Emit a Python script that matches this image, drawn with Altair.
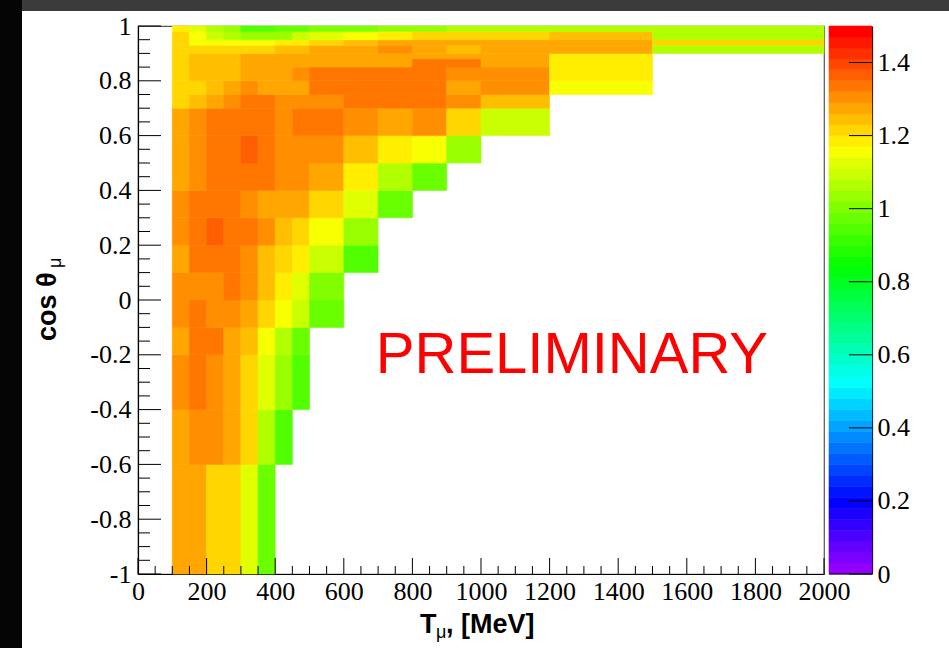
import colorsys
import altair as alt
import pandas as pd

# ---------------- data ----------------
row_cos_lo = [-1.0, -0.6, -0.4, -0.2, -0.1, 0.0, 0.1, 0.2, 0.3, 0.4, 0.5, 0.6,
              0.7, 0.75, 0.8, 0.85, 0.88, 0.9, 0.93, 0.95, 0.98]
row_cos_hi = [-0.6, -0.4, -0.2, -0.1, 0.0, 0.1, 0.2, 0.3, 0.4, 0.5, 0.6, 0.7,
              0.75, 0.8, 0.85, 0.88, 0.9, 0.93, 0.95, 0.98, 1.0]
row_t_edges = [
    [100, 200, 300, 350, 400],
    [100, 150, 250, 300, 350, 400, 450],
    [100, 150, 200, 250, 300, 350, 400, 450, 500],
    [100, 150, 250, 300, 350, 400, 450, 500],
    [100, 150, 200, 300, 350, 400, 450, 500, 600],
    [100, 250, 300, 350, 400, 450, 500, 600],
    [100, 150, 300, 350, 400, 450, 500, 600, 700],
    [100, 150, 200, 250, 350, 400, 450, 500, 600, 700],
    [100, 150, 300, 350, 500, 600, 700, 800],
    [100, 150, 200, 400, 500, 600, 700, 800, 900],
    [100, 150, 200, 300, 350, 400, 600, 700, 800, 900, 1000],
    [100, 150, 200, 400, 450, 600, 700, 800, 900, 1000, 1200],
    [100, 150, 200, 250, 300, 400, 600, 900, 1000, 1200],
    [100, 200, 250, 300, 350, 500, 900, 1000, 1200, 1500],
    [100, 150, 300, 450, 500, 900, 1200, 1500],
    [100, 150, 300, 800, 1000, 1200, 1500],
    [100, 150, 300, 1200, 1500],
    [100, 400, 500, 700, 800, 900, 1000, 1500, 2000],
    [100, 150, 400, 500, 600, 700, 1500, 2000],
    [100, 150, 200, 250, 300, 450, 500, 600, 700, 800, 1200, 1500, 2000],
    [100, 150, 200, 250, 300, 400, 500, 700, 900, 2000],
]
row_ratio = [
    [1.28, 1.22, 1.13, 0.98],
    [1.28, 1.31, 1.28, 1.22, 1.07, 0.95],
    [1.31, 1.34, 1.31, 1.28, 1.22, 1.13, 1.04, 0.95],
    [1.28, 1.34, 1.28, 1.25, 1.16, 1.07, 0.98],
    [1.31, 1.34, 1.31, 1.28, 1.22, 1.16, 1.10, 0.98],
    [1.31, 1.34, 1.31, 1.25, 1.19, 1.13, 1.01],
    [1.28, 1.34, 1.31, 1.25, 1.22, 1.19, 1.10, 0.95],
    [1.31, 1.34, 1.37, 1.34, 1.31, 1.25, 1.22, 1.16, 1.04],
    [1.31, 1.34, 1.31, 1.28, 1.22, 1.13, 0.98],
    [1.28, 1.31, 1.34, 1.31, 1.28, 1.19, 1.07, 0.98],
    [1.28, 1.31, 1.34, 1.37, 1.34, 1.31, 1.25, 1.19, 1.16, 1.04],
    [1.28, 1.31, 1.34, 1.31, 1.34, 1.31, 1.28, 1.31, 1.22, 1.10],
    [1.22, 1.25, 1.28, 1.31, 1.34, 1.31, 1.34, 1.31, 1.25],
    [1.22, 1.25, 1.28, 1.31, 1.28, 1.34, 1.28, 1.31, 1.16],
    [1.22, 1.25, 1.28, 1.31, 1.34, 1.31, 1.19],
    [1.22, 1.25, 1.28, 1.34, 1.28, 1.19],
    [1.22, 1.25, 1.28, 1.19],
    [1.22, 1.25, 1.28, 1.31, 1.28, 1.25, 1.28, 1.07],
    [1.22, 1.16, 1.19, 1.22, 1.25, 1.28, 1.22],
    [1.22, 1.16, 1.10, 1.07, 1.04, 1.10, 1.13, 1.16, 1.19, 1.22, 1.25, 1.07],
    [1.19, 1.13, 1.07, 1.04, 0.95, 0.98, 1.01, 1.04, 1.07],
]

x_major = [0, 200, 400, 600, 800, 1000, 1200, 1400, 1600, 1800, 2000]
y_major = [-1, -0.8, -0.6, -0.4, -0.2, 0, 0.2, 0.4, 0.6, 0.8, 1]
z_major = [0, 0.2, 0.4, 0.6, 0.8, 1, 1.2, 1.4]
annot_t = [1265]
annot_cos = [-0.205]

# ---------------- palette (ROOT "pretty" palette, 50 levels) ----------------
N_LEVELS = 50
Z_MAX = 1.5
STEP = Z_MAX / N_LEVELS


def root_colour(i):
    h = 280.0 - (i + 1) * 280.0 / N_LEVELS
    r, g, b = colorsys.hls_to_rgb(h / 360.0, 0.5, 1.0)
    return "#%02x%02x%02x" % (round(r * 255), round(g * 255), round(b * 255))


palette = [root_colour(i) for i in range(N_LEVELS)]
thresholds = [round((k + 1) * STEP, 4) for k in range(N_LEVELS - 1)]
cscale = alt.Scale(type="threshold", domain=thresholds, range=palette)

# ---------------- tables ----------------
cells = []
for lo, hi, edges, vals in zip(row_cos_lo, row_cos_hi, row_t_edges, row_ratio):
    for t0, t1, z in zip(edges[:-1], edges[1:], vals):
        cells.append({"t0": t0, "t1": t1, "c0": lo, "c1": hi, "z": z})
cells = pd.DataFrame(cells)

x_minor = [v for v in range(0, 2001, 50) if v % 200 != 0]
y_minor = [round(-1 + 0.05 * k, 2) for k in range(41)]
y_minor = [v for v in y_minor if round(v * 5, 6) != round(v * 5)]
bands = pd.DataFrame({
    "lo": [round(k * STEP, 4) for k in range(N_LEVELS)],
    "hi": [round((k + 1) * STEP, 4) for k in range(N_LEVELS)],
})
bands["z"] = (bands["lo"] + bands["hi"]) / 2

W, H = 686, 548
X0, Y0 = 138, 26  # plot origin on the page
xs = alt.Scale(domain=[0, 2000], nice=False, zero=False)
ys = alt.Scale(domain=[-1, 1], nice=False, zero=False)
zs = alt.Scale(domain=[0, Z_MAX], nice=False, zero=False)

SERIF = "Liberation Serif"
SANS = "Liberation Sans"
LFS = 26
one = pd.DataFrame({"a": [0]})

heat = alt.Chart(cells).mark_rect(strokeWidth=0.6).encode(
    x=alt.X("t0:Q", scale=xs, title=None,
            axis=alt.Axis(values=x_major, labelExpr="'' + datum.value", ticks=False,
                          grid=False, domainColor="black", domainWidth=1.2,
                          labelFont=SERIF, labelFontSize=LFS, labelColor="black",
                          labelPadding=4, labelOverlap=False, labelFlush=False)),
    x2="t1:Q",
    y=alt.Y("c0:Q", scale=ys, title=None,
            axis=alt.Axis(values=y_major, labelExpr="'' + datum.value", ticks=False,
                          grid=False, domainColor="black", domainWidth=1.2,
                          labelFont=SERIF, labelFontSize=LFS, labelColor="black",
                          labelPadding=7, labelOverlap=False, labelFlush=False)),
    y2="c1:Q",
    color=alt.Color("z:Q", scale=cscale, legend=None),
    stroke=alt.Stroke("z:Q", scale=cscale, legend=None),
)

ymaj = alt.Chart(pd.DataFrame({"v": y_major})).mark_rule(color="black", strokeWidth=1).encode(
    y=alt.Y("v:Q", scale=ys), x=alt.value(0), x2=alt.value(23))
ymin = alt.Chart(pd.DataFrame({"v": y_minor})).mark_rule(color="black", strokeWidth=1).encode(
    y=alt.Y("v:Q", scale=ys), x=alt.value(0), x2=alt.value(12))
xmaj = alt.Chart(pd.DataFrame({"v": x_major})).mark_rule(color="black", strokeWidth=1).encode(
    x=alt.X("v:Q", scale=xs), y=alt.value(H), y2=alt.value(H - 16))
xmin = alt.Chart(pd.DataFrame({"v": x_minor})).mark_rule(color="black", strokeWidth=1).encode(
    x=alt.X("v:Q", scale=xs), y=alt.value(H), y2=alt.value(H - 8))

prelim = alt.Chart(pd.DataFrame({"t": annot_t, "c": annot_cos})).mark_text(
    text="PRELIMINARY", font=SANS, fontSize=58, color="#ff0000",
    align="center", baseline="middle").encode(
    x=alt.X("t:Q", scale=xs), y=alt.Y("c:Q", scale=ys))

# axis titles with subscripts
xt1 = alt.Chart(one).mark_text(text="T", font=SANS, fontSize=27, fontWeight="bold",
                               align="left", baseline="alphabetic").encode(
    x=alt.value(420 - X0), y=alt.value(633 - Y0))
xt2 = alt.Chart(one).mark_text(text="μ", font=SANS, fontSize=18,
                               align="left", baseline="alphabetic").encode(
    x=alt.value(436 - X0), y=alt.value(638 - Y0))
xt3 = alt.Chart(one).mark_text(text=", [MeV]", font=SANS, fontSize=27, fontWeight="bold",
                               align="left", baseline="alphabetic").encode(
    x=alt.value(446 - X0), y=alt.value(633 - Y0))
yt1 = alt.Chart(one).mark_text(text="cos θ", font=SANS, fontSize=27, fontWeight="bold",
                               align="left", baseline="alphabetic", angle=270).encode(
    x=alt.value(56 - X0), y=alt.value(341 - Y0))
yt2 = alt.Chart(one).mark_text(text="μ", font=SANS, fontSize=18,
                               align="left", baseline="alphabetic", angle=270).encode(
    x=alt.value(61 - X0), y=alt.value(268 - Y0))

# window decorations of the screenshot
topbar = alt.Chart(one).mark_rect(color="#3b3b3b").encode(
    x=alt.value(22 - X0), x2=alt.value(949 - X0), y=alt.value(-Y0), y2=alt.value(11 - Y0))
leftbar = alt.Chart(one).mark_rect(color="#050505").encode(
    x=alt.value(-X0), x2=alt.value(22 - X0), y=alt.value(-Y0), y2=alt.value(648 - Y0))

main = alt.layer(heat, ymaj, ymin, xmaj, xmin, prelim, xt1, xt2, xt3, yt1, yt2, topbar, leftbar)

z_axis = alt.Axis(orient="right", offset=48, values=z_major,
                  labelExpr="'' + datum.value", ticks=False, grid=False,
                  domainColor="black", domainWidth=1.2,
                  labelFont=SERIF, labelFontSize=LFS, labelColor="black",
                  labelPadding=5, labelOverlap=False, labelFlush=False)

cbar = alt.Chart(bands).mark_rect(strokeWidth=0.6).encode(
    y=alt.Y("lo:Q", scale=zs, title=None, axis=z_axis),
    y2="hi:Q",
    x=alt.value(691), x2=alt.value(734),
    color=alt.Color("z:Q", scale=cscale, legend=None),
    stroke=alt.Stroke("z:Q", scale=cscale, legend=None),
)
cticks = alt.Chart(pd.DataFrame({"lo": z_major})).mark_rule(color="black", strokeWidth=1).encode(
    y=alt.Y("lo:Q", scale=zs, title=None, axis=z_axis), x=alt.value(711), x2=alt.value(734))
cbottom = alt.Chart(one).mark_rule(color="black", strokeWidth=1.2).encode(
    x=alt.value(691), x2=alt.value(734), y=alt.value(H), y2=alt.value(H))

side = alt.layer(cbar, cticks, cbottom)

chart = alt.layer(main, side).resolve_scale(y="independent").resolve_axis(y="independent").properties(
    width=W, height=H,
    padding={"left": X0, "top": Y0, "right": 949 - X0 - W, "bottom": 648 - Y0 - H},
    autosize=alt.AutoSizeParams(type="none"),
    background="white",
).configure_view(stroke="#555555", strokeWidth=1.2)

chart.save("out.html", embed_options={"renderer": "svg", "actions": False})
